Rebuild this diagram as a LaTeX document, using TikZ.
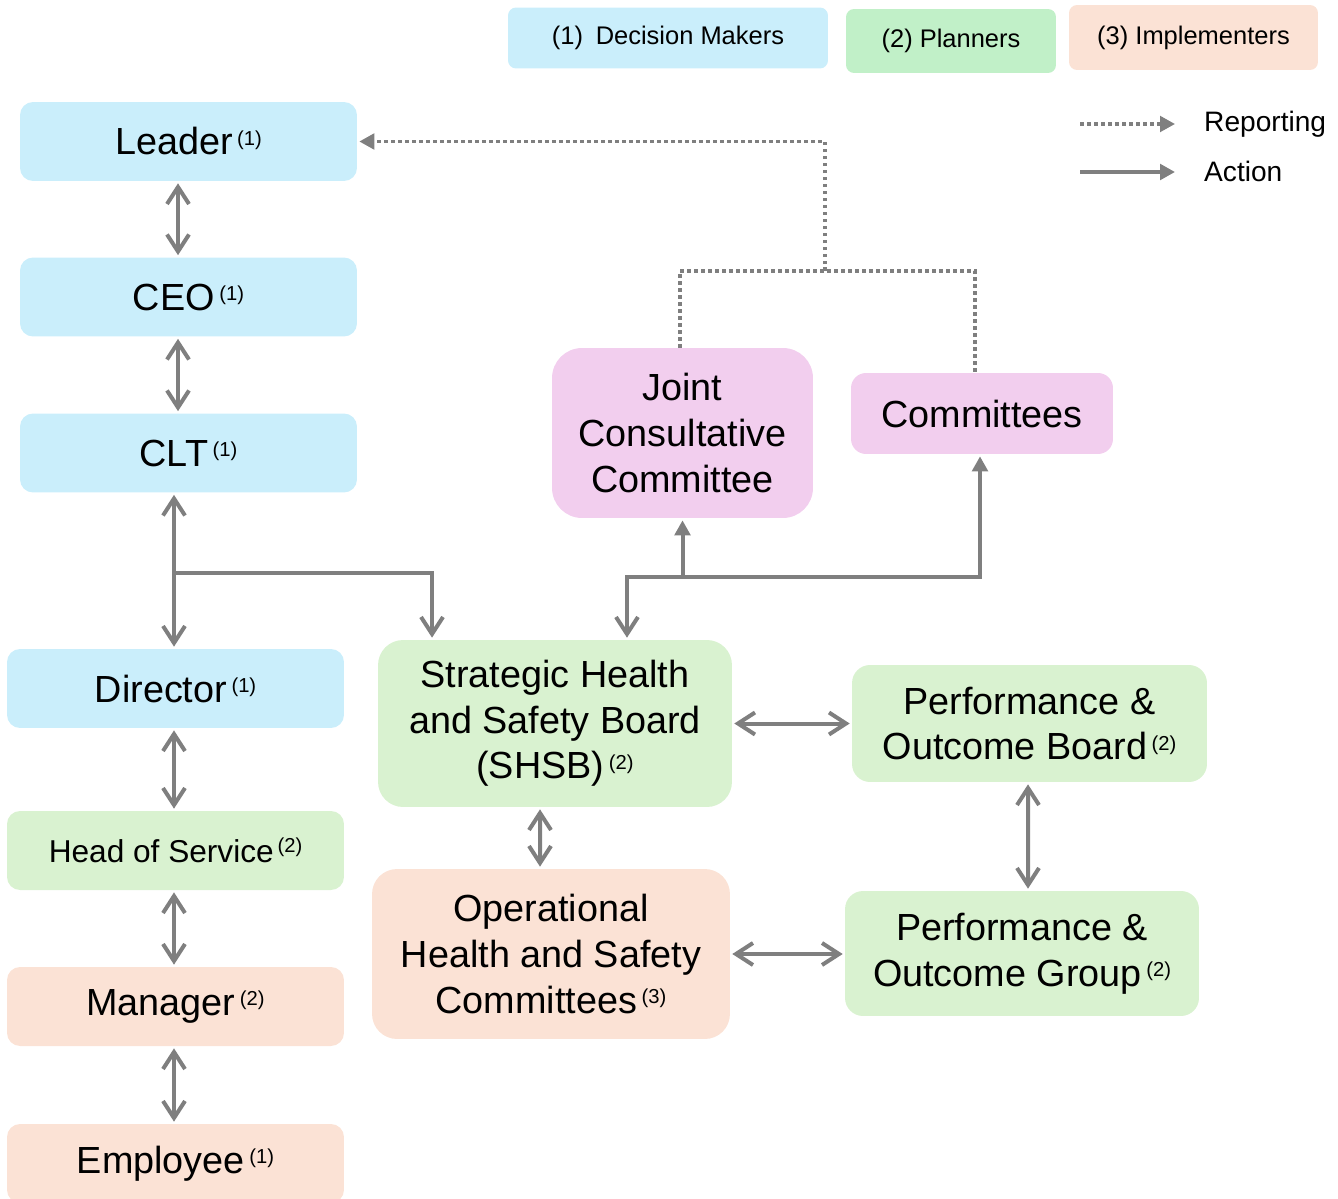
\documentclass[tikz,border=0pt]{standalone}
\usepackage{fontspec}
\setmainfont{Liberation Sans}
\usepackage{tikz}
\usetikzlibrary{arrows.meta}
\definecolor{deciblue}{HTML}{CAEEFB}
\definecolor{planngreen}{HTML}{D9F2D0}
\definecolor{keygreen}{HTML}{C1F0C8}
\definecolor{implpeach}{HTML}{FBE2D5}
\definecolor{cttepink}{HTML}{F2CEEE}
\definecolor{linegray}{HTML}{7F7F7F}
\newcommand{\lvl}[1]{\hspace{0.12em}\raisebox{5.5pt}{\fontsize{11.5}{12}\selectfont(#1)}}

\begin{document}
\begin{tikzpicture}[x=0.02cm, y=-0.02cm]
		\tikzset{box/.style={shape = rectangle, inner sep = 0pt, align = center, rounded corners = 0.26cm, font = \fontsize{21.5}{26}\selectfont}}
		\tikzset{rung/.style={box, minimum width = 6.74cm, minimum height = 1.58cm}}
		\tikzset{keybox/.style={box, rounded corners = 0.16cm, font = \fontsize{14.5}{16}\selectfont}}
		\tikzset{barb/.tip={Straight Barb[length = 3.4mm, width = 4.4mm]}}
		\tikzset{tri/.tip={Triangle[length = 3mm, width = 3.1mm]}}
		\tikzset{line/.style={draw = linegray, line width = 0.8mm}}
		\tikzset{edge/.style={line, barb-barb, shorten > = 0.04cm, shorten < = 0.04cm}}
		\tikzset{report/.style={draw = linegray, line width = 0.7mm, dash pattern = on 0.7mm off 0.7mm}}
		\useasboundingbox (0,0) rectangle (1338,1199);
					%key
					\node[keybox, fill = deciblue, minimum width = 6.4cm, minimum height = 1.22cm] (keyone) at (668,38) {(1)\enspace Decision Makers};
					\node[keybox, fill = keygreen, minimum width = 4.2cm, minimum height = 1.28cm] (keytwo) at (951,41) {(2) Planners};
					\node[keybox, fill = implpeach, minimum width = 4.98cm, minimum height = 1.3cm] (keythree) at (1193.5,37.5) {(3) Implementers};
					\coordinate (repa) at (1080,124);
					\coordinate (repb) at (1175,124);
					\coordinate (acta) at (1080,172);
					\coordinate (actb) at (1175,172);
					\node[anchor = base west, font = \fontsize{16}{18}\selectfont] (replbl) at (1198,132) {Reporting};
					\node[anchor = base west, font = \fontsize{16}{18}\selectfont] (actlbl) at (1198,182) {Action};
					%vertices
					\node[rung, fill = deciblue] (leader) at (188.5,141.5) {Leader\lvl{1}};
					\node[rung, fill = deciblue] (ceo) at (188.5,297) {CEO\lvl{1}};
					\node[rung, fill = deciblue] (clt) at (188.5,453) {CLT\lvl{1}};
					\node[rung, fill = deciblue] (dir) at (175.5,688.5) {Director\lvl{1}};
					\node[rung, fill = planngreen, font = \fontsize{18}{22}\selectfont] (hos) at (175.5,850.5) {Head of Service\lvl{2}};
					\node[rung, fill = implpeach] (mgr) at (175.5,1006.5) {Manager\lvl{2}};
					\node[rung, fill = implpeach] (emp) at (175.5,1163.5) {Employee\lvl{1}};
					\node[box, fill = cttepink, rounded corners = 0.6cm, minimum width = 5.22cm, minimum height = 3.4cm] (jcc) at (682.5,433) {Joint\\Consultative\\Committee};
					\node[box, fill = cttepink, rounded corners = 0.3cm, minimum width = 5.24cm, minimum height = 1.62cm] (cmt) at (982,413.5) {Committees};
					\node[box, fill = planngreen, rounded corners = 0.5cm, minimum width = 7.08cm, minimum height = 3.34cm] (shsb) at (555,723.5) {Strategic Health\\and Safety Board\\(SHSB)\lvl{2}};
					\node[box, fill = implpeach, rounded corners = 0.5cm, minimum width = 7.16cm, minimum height = 3.4cm] (ohsc) at (551,954) {Operational\\Health and Safety\\Committees\lvl{3}};
					\node[box, fill = planngreen, rounded corners = 0.36cm, minimum width = 7.1cm, minimum height = 2.34cm] (pob) at (1029.5,723.5) {Performance \&\\Outcome Board\lvl{2}};
					\node[box, fill = planngreen, rounded corners = 0.36cm, minimum width = 7.08cm, minimum height = 2.5cm] (pog) at (1022,953.5) {Performance \&\\Outcome Group\lvl{2}};
					\coordinate (split) at (174,573);
					\coordinate (hub) at (682.5,577);
					\coordinate (rhub) at (825,271);
					%edges
					\draw[report, -tri] (repa) -- (repb);
					\draw[line, -tri] (acta) -- (actb);
					\draw[edge] ([xshift = -0.21cm]leader.south) -- ([xshift = -0.21cm]ceo.north);
					\draw[edge] ([xshift = -0.21cm]ceo.south) -- ([xshift = -0.21cm]clt.north);
					\draw[edge] (clt.south -| split) -- (dir.north -| split);
					\draw[line, -barb, shorten > = 0.04cm] (split) -| ([xshift = -2.46cm]shsb.north);
					\draw[edge] ([xshift = -0.03cm]dir.south) -- ([xshift = -0.03cm]hos.north);
					\draw[edge] ([xshift = -0.03cm]hos.south) -- ([xshift = -0.03cm]mgr.north);
					\draw[edge] ([xshift = -0.03cm]mgr.south) -- ([xshift = -0.03cm]emp.north);
					\draw[edge] ([xshift = -0.3cm]shsb.south) -- ([xshift = -0.22cm]ohsc.north);
					\draw[edge] (shsb.east) -- (shsb.east -| pob.west);
					\draw[edge] ([xshift = -0.03cm]pob.south) -- ([xshift = 0.12cm]pog.north);
					\draw[edge] (ohsc.east) -- (ohsc.east -| pog.west);
					\draw[line, barb-tri, shorten < = 0.04cm, shorten > = 0.04cm] ([xshift = 1.44cm]shsb.north) |- (hub) -| ([xshift = -0.04cm]cmt.south);
					\draw[line, -tri, shorten > = 0.04cm] (hub) -- (jcc.south);
					\draw[report] ([xshift = -0.05cm]jcc.north) |- (rhub) -| ([xshift = -0.14cm]cmt.north);
					\draw[report, -tri, shorten > = 0.04cm] (rhub) |- (leader.east);
					
					\end{tikzpicture}
\end{document}
